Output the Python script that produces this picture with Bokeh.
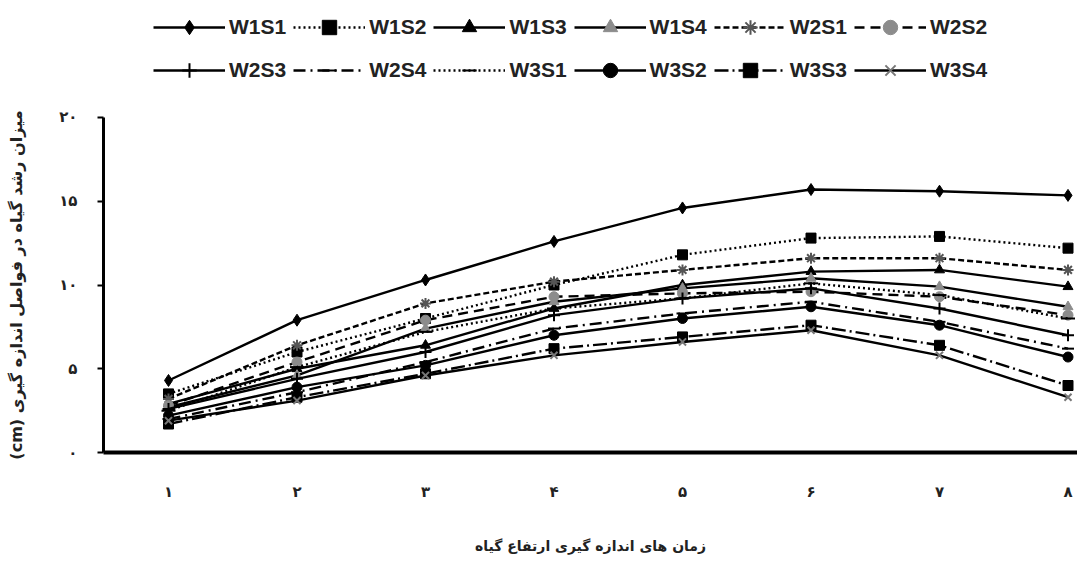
from bokeh.plotting import figure
from bokeh.models import Legend, LegendItem, FixedTicker, Range1d
from bokeh.embed import file_html
from bokeh.resources import INLINE

# ---- data ----
x_times = [1, 2, 3, 4, 5, 6, 7, 8]
x_tick_labels = ["۱", "۲", "۳", "۴", "۵", "۶", "۷", "۸"]
y_ticks = [0, 5, 10, 15, 20]
y_tick_labels = ["۰", "۵", "۱۰", "۱۵", "۲۰"]

series_names = ["W1S1", "W1S2", "W1S3", "W1S4", "W2S1", "W2S2",
                "W2S3", "W2S4", "W3S1", "W3S2", "W3S3", "W3S4"]

W1S1 = [4.3, 7.9, 10.3, 12.6, 14.6, 15.7, 15.6, 15.35]
W1S2 = [3.5, 6.0, 8.0, 10.0, 11.8, 12.8, 12.9, 12.2]
W1S3 = [2.9, 5.0, 6.4, 8.6, 10.0, 10.8, 10.9, 9.9]
W1S4 = [2.7, 4.6, 7.4, 9.0, 9.8, 10.4, 9.9, 8.7]
W2S1 = [3.2, 6.4, 8.9, 10.2, 10.9, 11.6, 11.6, 10.9]
W2S2 = [2.8, 5.4, 7.9, 9.3, 9.5, 9.6, 9.3, 8.2]
W2S3 = [2.6, 4.4, 6.0, 8.2, 9.2, 9.8, 8.6, 7.0]
W2S4 = [2.0, 3.6, 5.4, 7.4, 8.3, 9.0, 7.8, 6.2]
W3S1 = [2.5, 5.1, 7.2, 8.6, 9.2, 10.1, 9.4, 8.0]
W3S2 = [2.2, 3.9, 5.2, 7.0, 8.0, 8.7, 7.6, 5.7]
W3S3 = [1.7, 3.3, 4.7, 6.2, 6.9, 7.6, 6.4, 4.0]
W3S4 = [1.9, 3.1, 4.6, 5.8, 6.6, 7.3, 5.8, 3.3]

series_values = [W1S1, W1S2, W1S3, W1S4, W2S1, W2S2,
                 W2S3, W2S4, W3S1, W3S2, W3S3, W3S4]

# RTL embedding so that "(cm)" ends up at the end of the right-to-left sentence
y_title = "\u202Bمیزان رشد گیاه در فواصل اندازه گیری \u202A(cm)\u202C\u202C"
x_title = "زمان های اندازه گیری ارتفاع گیاه"

# ---- styles ----
styles = {
    "W1S1": dict(dash="solid", marker="diamond", fill="black", size=12),
    "W1S2": dict(dash="2 3", marker="square", fill="black", size=10),
    "W1S3": dict(dash="solid", marker="triangle", fill="black", size=10),
    "W1S4": dict(dash="solid", marker="triangle", fill="#8c8c8c", size=10),
    "W2S1": dict(dash="6 3", marker="asterisk", fill="#555555", size=11),
    "W2S2": dict(dash="10 6", marker="circle", fill="#8c8c8c", size=10),
    "W2S3": dict(dash="solid", marker="cross", fill="black", size=12),
    "W2S4": dict(dash="12 5 2 5", marker="dash", fill="black", size=12),
    "W3S1": dict(dash="2 3", marker="dash", fill="black", size=14),
    "W3S2": dict(dash="solid", marker="circle", fill="black", size=10),
    "W3S3": dict(dash="14 4 2 4", marker="square", fill="black", size=10),
    "W3S4": dict(dash="solid", marker="x", fill="#777777", size=10),
}

persian = "DejaVu Sans"

# Frame covers the whole canvas; axes are pinned inside it.
# mapping: x=1 -> 168 px, 128.5 px per step; y=0 -> 452 px, 16.75 px per unit
x_lo, x_hi = -0.3074, 8.0739
y_lo, y_hi = -6.746, 26.985
x_axis_start = 0.4942

p = figure(width=1077, height=565, output_backend="svg", toolbar_location=None,
           x_range=Range1d(x_lo, x_hi), y_range=Range1d(y_lo, y_hi),
           min_border_left=0, min_border_right=0, min_border_top=0,
           min_border_bottom=0)
p.outline_line_color = None
p.xgrid.grid_line_color = None
p.ygrid.grid_line_color = None
p.background_fill_color = "white"

# y axis
p.yaxis.fixed_location = x_axis_start
p.yaxis.bounds = (0, 20)
p.yaxis.ticker = FixedTicker(ticks=y_ticks)
p.yaxis.major_label_overrides = {t: l for t, l in zip(y_ticks, y_tick_labels)}
p.yaxis.axis_line_width = 3
p.yaxis.axis_line_color = "black"
p.yaxis.major_tick_out = 6
p.yaxis.major_tick_in = 0
p.yaxis.major_tick_line_width = 2
p.yaxis.minor_tick_line_color = None
p.yaxis.major_label_standoff = 20
p.yaxis.major_label_text_font = persian
p.yaxis.major_label_text_font_style = "bold"
p.yaxis.major_label_text_font_size = "15px"
p.yaxis.major_label_text_color = "#222222"
p.yaxis.axis_label = y_title
p.yaxis.axis_label_text_font = persian
p.yaxis.axis_label_text_font_style = "bold"
p.yaxis.axis_label_text_font_size = "16px"
p.yaxis.axis_label_standoff = 30
p.yaxis.axis_label_text_color = "#222222"

# x axis
p.xaxis.fixed_location = 0
p.xaxis.bounds = (x_axis_start, x_hi)
p.xaxis.ticker = FixedTicker(ticks=x_times)
p.xaxis.major_label_overrides = {t: l for t, l in zip(x_times, x_tick_labels)}
p.xaxis.axis_line_width = 4
p.xaxis.axis_line_color = "black"
p.xaxis.major_tick_out = 0
p.xaxis.major_tick_in = 0
p.xaxis.minor_tick_line_color = None
p.xaxis.major_label_standoff = 30
p.xaxis.major_label_text_font = persian
p.xaxis.major_label_text_font_style = "bold"
p.xaxis.major_label_text_font_size = "15px"
p.xaxis.major_label_text_color = "#222222"
p.xaxis.axis_label = x_title
p.xaxis.axis_label_text_font = persian
p.xaxis.axis_label_text_font_style = "bold"
p.xaxis.axis_label_text_font_size = "14px"
p.xaxis.axis_label_standoff = 34
p.xaxis.axis_label_text_color = "#222222"

items = []
for name, vals in zip(series_names, series_values):
    st = styles[name]
    lr = p.line(x_times, vals, line_color="black", line_width=2.4, line_dash=st["dash"])
    thin = st["marker"] in ("asterisk", "cross", "x", "dash")
    mr = p.scatter(x_times, vals, marker=st["marker"], size=st["size"],
                   fill_color=st["fill"], line_color=st["fill"],
                   line_width=2 if thin else 1)
    items.append(LegendItem(label=name, renderers=[lr, mr]))

legend = Legend(items=items, orientation="horizontal", ncols=6,
                location=(153, 477), glyph_width=72, glyph_height=36,
                label_height=36, label_standoff=4, spacing=7, padding=0, margin=0,
                border_line_color=None, background_fill_alpha=0,
                label_text_font="Liberation Sans", label_text_font_style="bold",
                label_text_font_size="21px", label_text_color="#222222")
p.add_layout(legend, "center")

open("out.html", "w").write(file_html(p, INLINE))
